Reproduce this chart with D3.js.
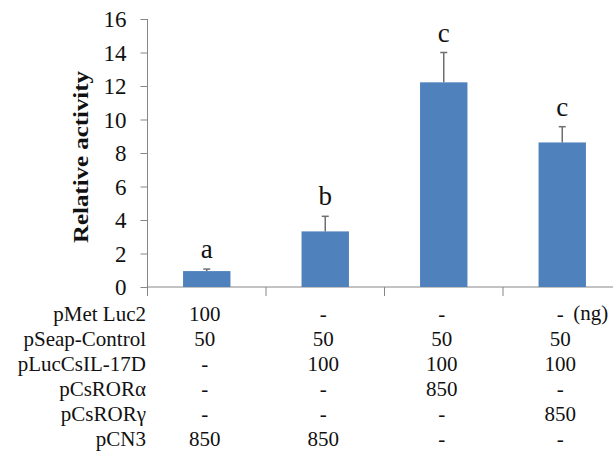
<!DOCTYPE html>
<html>
<head>
<meta charset="utf-8">
<script src="https://cdn.jsdelivr.net/npm/d3@7"></script>
<style>
  body { margin: 0; background: #fff; }
</style>
</head>
<body>
<div id="chart"></div>
<script>
// data
const groups = ["g1", "g2", "g3", "g4"];
const activity = [0.95, 3.32, 12.22, 8.63];
const errors = [0.12, 0.9, 1.78, 0.94];
const letters = ["a", "b", "c", "c"];
const yTicks = [0, 2, 4, 6, 8, 10, 12, 14, 16];
const rowLabels = ["pMet Luc2", "pSeap-Control", "pLucCsIL-17D", "pCsRORα", "pCsRORγ", "pCN3"];
const amounts = [
    ["100", "-", "-", "-"],
    ["50", "50", "50", "50"],
    ["-", "100", "100", "100"],
    ["-", "-", "850", "-"],
    ["-", "-", "-", "850"],
    ["850", "850", "-", "-"]
];
const unitLabel = "(ng)";

const width = 613, height = 456;
const axisColor = "#868686";
const barColor = "#4f81bd";
const serif = "'Liberation Serif', 'Times New Roman', Times, 'DejaVu Serif', serif";

let svg = d3.select("#chart").append("svg")
    .attr("width", width)
    .attr("height", height)
    .style("font-family", serif);

let x = d3.scaleBand().domain(groups).range([147.5, 621.5]).padding(0);
let y = d3.scaleLinear().domain([0, 16]).range([287, 19]);
let barW = x.bandwidth() * 0.4;

// y axis
let yAxis = svg.append("g")
    .attr("transform", "translate(147.5,0)")
    .call(d3.axisLeft(y).tickValues(yTicks).tickSize(7).tickPadding(14));
yAxis.attr("font-family", null);
yAxis.select(".domain").remove();
yAxis.selectAll("line").attr("stroke", axisColor);
yAxis.selectAll("text")
    .attr("font-size", 23)
    .style("font-family", serif)
    .attr("fill", "#111")
    .attr("dy", "0.34em");

svg.append("line")
    .attr("x1", 147.5).attr("x2", 147.5)
    .attr("y1", y(16)).attr("y2", y(0) + 9)
    .attr("stroke", axisColor);

// x axis with ticks at the category boundaries
svg.append("line")
    .attr("x1", 147.5).attr("x2", width)
    .attr("y1", y(0)).attr("y2", y(0))
    .attr("stroke", axisColor);
svg.append("g").selectAll("line")
    .data(groups.slice(1))
    .join("line")
    .attr("x1", d => x(d)).attr("x2", d => x(d))
    .attr("y1", y(0)).attr("y2", y(0) + 9)
    .attr("stroke", axisColor);

svg.append("text")
    .attr("transform", `translate(88,157) rotate(-90)`)
    .attr("text-anchor", "middle")
    .attr("font-size", 22)
    .attr("font-weight", "bold")
    .attr("fill", "#111")
    .attr("textLength", 172)
    .attr("lengthAdjust", "spacingAndGlyphs")
    .text("Relative activity");

// bars
svg.append("g").selectAll("rect")
    .data(groups)
    .join("rect")
    .attr("x", d => x(d) + (x.bandwidth() - barW) / 2)
    .attr("y", (d, i) => y(activity[i]))
    .attr("width", barW)
    .attr("height", (d, i) => y(0) - y(activity[i]))
    .attr("fill", barColor);

// error bars
let err = svg.append("g").attr("stroke", "#6e6e6e").attr("stroke-width", 1.5);
groups.forEach((d, i) => {
    let cx = x(d) + x.bandwidth() / 2;
    let top = y(activity[i] + errors[i]);
    err.append("line").attr("x1", cx).attr("x2", cx)
        .attr("y1", y(activity[i])).attr("y2", top);
    err.append("line").attr("x1", cx - 3.5).attr("x2", cx + 3.5)
        .attr("y1", top).attr("y2", top);
});

// significance letters
svg.append("g").selectAll("text")
    .data(groups)
    .join("text")
    .attr("x", d => x(d) + x.bandwidth() / 2)
    .attr("y", (d, i) => y(activity[i] + errors[i]) - 11)
    .attr("text-anchor", "middle")
    .attr("font-size", 27)
    .attr("fill", "#111")
    .text((d, i) => letters[i]);

// plasmid table under the axis
let row = d3.scalePoint().domain(rowLabels).range([321, 446]);

svg.append("g").selectAll("text")
    .data(rowLabels)
    .join("text")
    .attr("x", 146)
    .attr("y", d => row(d))
    .attr("text-anchor", "end")
    .attr("font-size", 21)
    .attr("fill", "#111")
    .text(d => d);

rowLabels.forEach((label, r) => {
    svg.append("g").selectAll("text")
        .data(amounts[r])
        .join("text")
        .attr("x", (d, i) => x(groups[i]) + x.bandwidth() / 2 - 2)
        .attr("y", row(label))
        .attr("text-anchor", "middle")
        .attr("font-size", 21)
        .attr("fill", "#111")
        .text(d => d);
});

svg.append("text")
    .attr("x", x(groups[3]) + x.bandwidth() / 2 + 11)
    .attr("y", row(rowLabels[0]) - 1)
    .attr("font-size", 21)
    .attr("fill", "#111")
    .text(unitLabel);
</script>
</body>
</html>
